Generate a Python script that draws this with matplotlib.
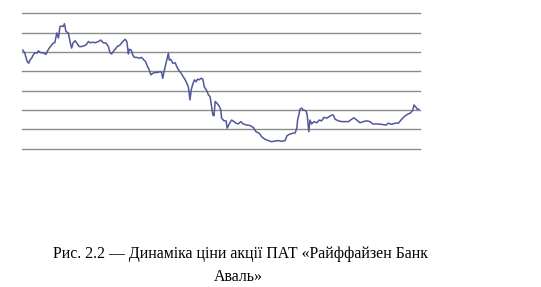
import numpy as np
import matplotlib.pyplot as plt

# Share price trace (trading-day index, price)
days = [2, 7, 13, 17, 20, 24, 28, 32, 37, 41, 45, 49, 55, 60, 63, 68, 74, 78, 82, 87,
        91, 95, 99, 103, 106, 110, 116, 120, 124, 128, 133, 137, 143, 149, 155, 160, 166, 170, 177, 183,
        191, 197, 203, 210, 216, 220, 224, 228, 233, 238, 245, 252, 258, 262, 264, 266, 268, 273, 277, 281,
        287, 293, 299, 305, 309, 313, 318, 322, 327, 333, 338, 345, 349, 352, 355, 359, 363, 366, 368, 372,
        377, 383, 387, 391, 395, 399, 403, 408, 412, 416, 420, 423, 427, 431, 435, 439, 443, 448, 452, 456,
        462, 466, 470, 474, 477, 480, 483, 488, 493, 497, 499, 505, 510, 513, 518, 524, 530, 535, 541, 547,
        553, 562, 570, 578, 585, 593, 599, 608, 616, 624, 633, 641, 649, 658, 662, 668, 677, 683, 687, 689,
        692, 695, 699, 703, 710, 713, 717, 720, 724, 730, 737, 743, 749, 755, 762, 768, 774, 778, 783, 791,
        799, 808, 816, 824, 830, 837, 845, 853, 862, 870, 877, 887, 899, 910, 916, 924, 933, 941, 949, 958,
        966, 972, 977, 980, 985, 988, 992]
price = [0.255, 0.247, 0.225, 0.221, 0.229, 0.234, 0.242, 0.248, 0.247, 0.253, 0.249, 0.248, 0.247, 0.244, 0.251, 0.260, 0.268, 0.273, 0.274, 0.299,
         0.286, 0.316, 0.317, 0.316, 0.323, 0.303, 0.299, 0.277, 0.260, 0.274, 0.279, 0.273, 0.264, 0.264, 0.266, 0.268, 0.277, 0.274, 0.275, 0.274,
         0.277, 0.281, 0.274, 0.273, 0.264, 0.248, 0.245, 0.251, 0.257, 0.264, 0.268, 0.277, 0.283, 0.277, 0.260, 0.245, 0.257, 0.255, 0.242, 0.236,
         0.236, 0.234, 0.236, 0.229, 0.225, 0.214, 0.204, 0.191, 0.195, 0.197, 0.197, 0.199, 0.197, 0.182, 0.199, 0.217, 0.234, 0.247, 0.229, 0.231,
         0.221, 0.222, 0.212, 0.204, 0.199, 0.193, 0.186, 0.178, 0.169, 0.159, 0.126, 0.152, 0.167, 0.178, 0.173, 0.180, 0.178, 0.182, 0.180, 0.159,
         0.150, 0.139, 0.135, 0.109, 0.087, 0.085, 0.122, 0.117, 0.110, 0.100, 0.079, 0.072, 0.072, 0.053, 0.064, 0.074, 0.070, 0.066, 0.064, 0.070,
         0.064, 0.061, 0.060, 0.055, 0.044, 0.040, 0.031, 0.024, 0.021, 0.018, 0.020, 0.021, 0.019, 0.021, 0.033, 0.037, 0.040, 0.041, 0.053, 0.074,
         0.087, 0.102, 0.105, 0.100, 0.098, 0.087, 0.044, 0.074, 0.064, 0.070, 0.067, 0.074, 0.072, 0.081, 0.079, 0.083, 0.087, 0.087, 0.076, 0.072,
         0.070, 0.070, 0.070, 0.076, 0.080, 0.074, 0.067, 0.070, 0.072, 0.070, 0.064, 0.064, 0.063, 0.061, 0.066, 0.063, 0.066, 0.066, 0.076, 0.085,
         0.090, 0.093, 0.100, 0.113, 0.107, 0.102, 0.102]
grid_levels = np.arange(0, 0.351, 0.05)
caption = ["Рис. 2.2 — Динаміка ціни акції ПАТ «Райффайзен Банк", "Аваль»"]

fig = plt.figure(figsize=(5.41, 2.87), dpi=100)
ax = fig.add_axes([22 / 541, 1 - 148.7 / 287, 398 / 541, 135.4 / 287])

for lv in grid_levels:
    ax.axhline(lv, color='#8c8c8c', lw=1.0, zorder=1, clip_on=False)
ax.plot(days, price, color='#50579a', lw=1.1, zorder=2)

ax.set_xlim(0, 995)
ax.set_ylim(0, 0.35)
ax.axis('off')

# caption, two lines as in the source document
fig.text(240.5 / 541, 1 - 257.5 / 287, caption[0], ha='center', va='baseline',
         fontsize=11.4, family='Liberation Serif')
fig.text(238.5 / 541, 1 - 281 / 287, caption[1], ha='center', va='baseline',
         fontsize=11.4, family='Liberation Serif')

fig.savefig('out.png', dpi=100)
